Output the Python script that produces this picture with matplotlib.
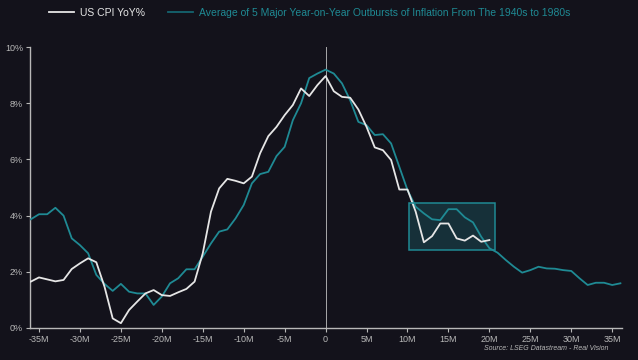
import matplotlib
matplotlib.use("Agg")
import matplotlib.pyplot as plt
from matplotlib.patches import Rectangle
import numpy as np

plt.rcParams['font.family'] = ['Liberation Sans', 'DejaVu Sans']

months_cpi = list(range(-36, 21))
cpi = [1.65, 1.80, 1.73, 1.66, 1.71, 2.10, 2.30, 2.48, 2.34, 1.47,
       0.34, 0.17, 0.64, 0.94, 1.23, 1.35, 1.17, 1.14, 1.27, 1.39,
       1.65, 2.66, 4.14, 4.97, 5.31, 5.24, 5.15, 5.39, 6.22, 6.83,
       7.16, 7.58, 7.94, 8.53, 8.26, 8.65,
       8.97, 8.43, 8.23, 8.20, 7.78, 7.16, 6.43, 6.33, 5.98, 4.93,
       4.93, 4.14, 3.05, 3.27, 3.72, 3.72, 3.19, 3.11, 3.29, 3.07, 3.13]

months_avg = list(range(-36, 37))
avg = [3.87, 4.05, 4.05, 4.28, 4.00, 3.19, 2.95, 2.66, 1.89, 1.57,
       1.32, 1.57, 1.29, 1.23, 1.23, 0.82, 1.12, 1.59, 1.77, 2.09,
       2.09, 2.54, 3.01, 3.43, 3.51, 3.90, 4.38, 5.15, 5.48, 5.56,
       6.12, 6.45, 7.40, 8.00, 8.90, 9.06,
       9.20, 9.06, 8.71, 8.11, 7.34, 7.22, 6.87, 6.90, 6.57, 5.74,
       4.91, 4.32, 4.08, 3.87, 3.84, 4.23, 4.23, 3.94, 3.76, 3.25,
       2.84, 2.68, 2.42, 2.18, 1.97, 2.06, 2.18, 2.12, 2.11, 2.06,
       2.03, 1.77, 1.53, 1.61, 1.61, 1.53, 1.59]

x_ticks = list(range(-35, 36, 5))
x_labels = [("0" if t == 0 else f"{t}M") for t in x_ticks]
y_ticks = [0, 2, 4, 6, 8, 10]
y_labels = [f"{t}%" for t in y_ticks]

box_x = (10.2, 20.7)
box_y = (2.78, 4.44)

bg = "#13121b"
teal = "#1f8a94"
white = "#e6e6e6"
grey = "#b8b8b8"

fig = plt.figure(figsize=(6.38, 3.6), dpi=100, facecolor=bg)
ax = fig.add_axes([0.047, 0.089, 0.928, 0.78], facecolor=bg)

ax.plot(months_cpi, cpi, color=white, lw=1.3, label="US CPI YoY%", zorder=4)
ax.plot(months_avg, avg, color=teal, lw=1.3,
        label="Average of 5 Major Year-on-Year Outbursts of Inflation From The 1940s to 1980s", zorder=3)

ax.axvline(0, color="#cfcfcf", lw=0.7, alpha=0.8, zorder=2)

ax.add_patch(Rectangle((box_x[0], box_y[0]), box_x[1] - box_x[0], box_y[1] - box_y[0],
                       facecolor=teal, alpha=0.25, edgecolor="none", zorder=1))
ax.add_patch(Rectangle((box_x[0], box_y[0]), box_x[1] - box_x[0], box_y[1] - box_y[0],
                       facecolor="none", edgecolor=teal, lw=1.1, zorder=5))

ax.set_xlim(-36.1, 36.2)
ax.set_ylim(0, 10)
ax.set_xticks(x_ticks)
ax.set_xticklabels(x_labels)
ax.set_yticks(y_ticks)
ax.set_yticklabels(y_labels)
ax.tick_params(colors=grey, labelsize=6.5, length=3, width=0.8, pad=2)
for t in ax.get_xticklabels() + ax.get_yticklabels():
    t.set_color(grey)
for s in ["top", "right"]:
    ax.spines[s].set_visible(False)
for s in ["left", "bottom"]:
    ax.spines[s].set_color(grey)
    ax.spines[s].set_linewidth(1.0)

leg = fig.legend(loc="upper left", bbox_to_anchor=(0.062, 1.005), ncol=2, frameon=False,
                 fontsize=7.5, handlelength=2.4, columnspacing=2.2, handletextpad=0.6)
leg.get_texts()[0].set_color(white)
leg.get_texts()[1].set_color(teal)
leg.get_lines()[1].set_color("#156470")

fig.text(0.953, 0.033, "Source: LSEG Datastream - Real Vision", color=grey,
         fontsize=5, style="italic", ha="right", va="center")

fig.savefig("out.png", dpi=100, facecolor=bg)
